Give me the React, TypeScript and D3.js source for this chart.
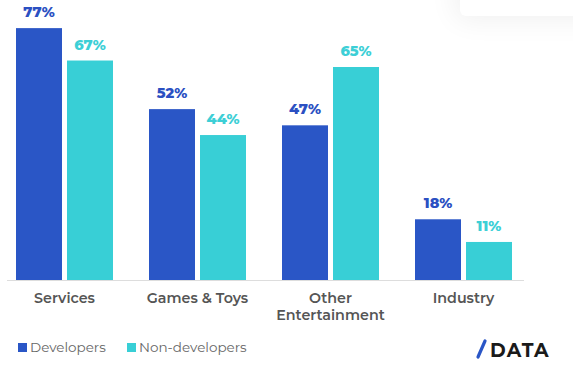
import React from "react";
import * as d3 from "d3";

const categories = ["Services", "Games & Toys", "Other\nEntertainment", "Industry"];
const seriesNames = ["Developers", "Non-developers"];
const developers = [77, 52, 47, 18];
const nonDevelopers = [67, 44, 65, 11];
const colors = ["#2a56c6", "#38cfd6"];
const labelColors = ["#2b50c2", "#3dcfd6"];

const W = 573;
const H = 370;

export default function App() {
  const x0 = d3.scaleBand().domain(categories).range([16, 548]).paddingInner(0).paddingOuter(0);
  const y = d3.scaleLinear().domain([0, 100]).range([277.6, 277.6 - 324]);
  const series = [developers, nonDevelopers];
  const bw = 46;
  const gap = 5;
  const font = "Montserrat, 'Open Sans', 'DejaVu Sans', sans-serif";
  return (
    <svg width={W} height={H} style={{ position: "absolute", left: 0, top: 0, background: "#fff" }}>
      <defs>
        <filter id="sh" x="-50%" y="-200%" width="200%" height="500%">
          <feGaussianBlur stdDeviation="14" />
        </filter>
      </defs>
      <rect x={455} y={-30} width={160} height={50} rx={10} fill="#000" opacity={0.06} filter="url(#sh)" />
      <rect x={460} y={-30} width={140} height={46} rx={6} fill="#fff" />
      {categories.map((c, i) => {
        const gx = x0(c) as number;
        return (
          <g key={c}>
            {series.map((s, j) => {
              const bx = gx + j * (bw + gap);
              return (
                <g key={j}>
                  <rect x={bx} y={y(s[i])} width={bw} height={280 - y(s[i])} fill={colors[j]} />
                  <text x={bx + bw / 2} y={y(s[i]) - 11} textAnchor="middle" fontFamily={font} fontWeight={800} fontSize={14.5} fill={labelColors[j]}>
                    {s[i]}%
                  </text>
                </g>
              );
            })}
            <text textAnchor="middle" fontFamily={font} fontWeight={600} fontSize={14.3} fill="#555">
              {c.split("\n").map((t, k) => (
                <tspan key={k} x={gx + bw + gap / 2} y={303 + k * 17}>{t}</tspan>
              ))}
            </text>
          </g>
        );
      })}
      <line x1={7} x2={524} y1={280.5} y2={280.5} stroke="#dddddd" strokeWidth={1.2} />
      {seriesNames.map((n, j) => {
        const lx = j === 0 ? 18 : 127;
        return (
          <g key={n}>
            <rect x={lx} y={343} width={9} height={9} fill={colors[j]} />
            <text x={lx + 12} y={352} fontFamily={font} fontSize={13.5} fill="#666">{n}</text>
          </g>
        );
      })}
      <g>
        <line x1={478} y1={357} x2={485} y2={341} stroke="#2a56c6" strokeWidth={3.2} strokeLinecap="round" />
        <text x={490} y={357} fontFamily={font} fontWeight={700} fontSize={19} letterSpacing={1.2} fill="#1a1a1a">DATA</text>
      </g>
    </svg>
  );
}
